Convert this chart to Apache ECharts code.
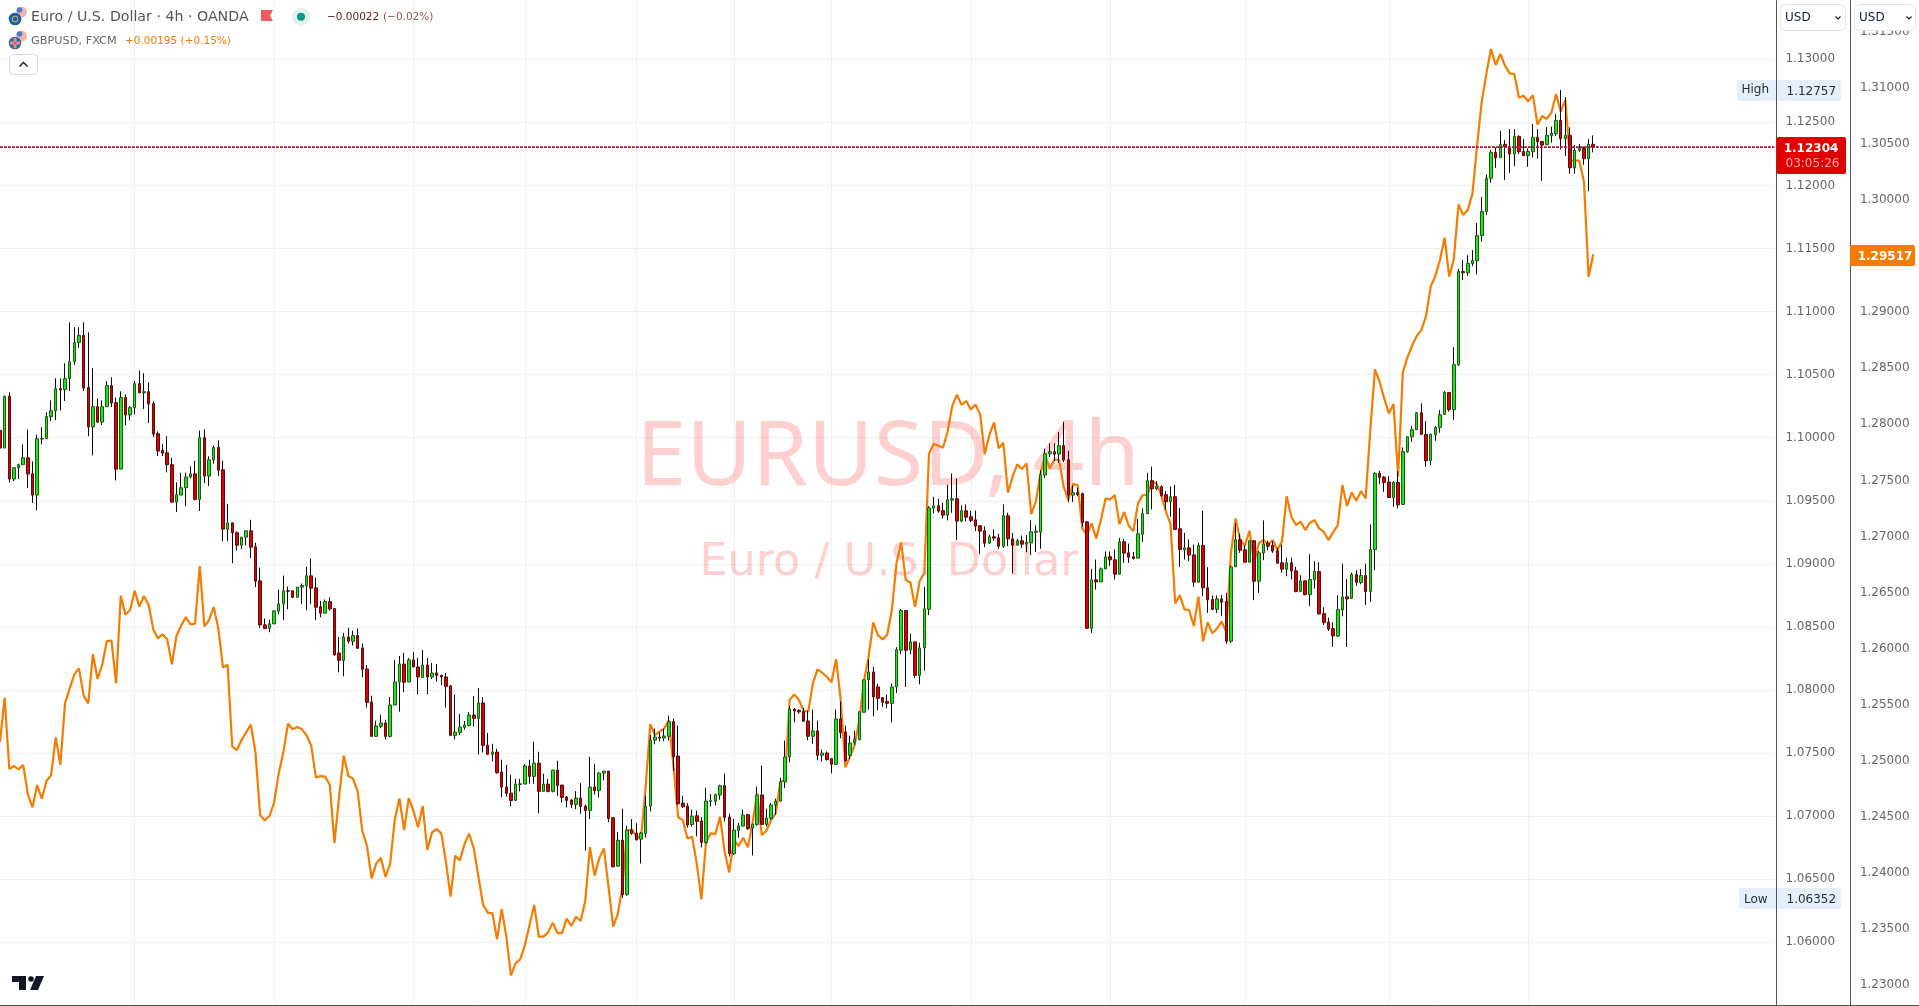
<!DOCTYPE html>
<html><head><meta charset="utf-8">
<style>html,body{margin:0;padding:0;background:#fff;overflow:hidden}#c{width:1919px;height:1006px}</style>
<script src="https://cdn.jsdelivr.net/npm/echarts@6/dist/echarts.min.js"></script>
</head><body><div id="c"></div>
<script>
// Prices are stored in pipettes (price x 100000)
const PIP = 100000;
const opens = [
110058,109918,110328,109672,109762,109786,109841,109714,109545,109989,
109992,110167,110214,110389,110381,110468,110603,110754,110810,110397,
110085,110246,110124,110246,110413,110278,109751,110318,110180,110238,
110429,110355,110365,110270,110032,109900,109881,109786,109489,109545,
109603,109688,109714,109511,110000,109696,109825,109923,109746,109275,
109325,109246,109148,109212,109262,109135,108865,108516,108489,108524,
108624,108683,108788,108786,108735,108815,108825,108905,108810,108659,
108609,108701,108646,108293,108235,108420,108386,108431,108333,108166,
107905,107632,107711,107738,107632,107881,108063,108206,108063,108238,
108182,108100,108198,108103,108135,108116,108103,108032,107640,107664,
107703,107719,107801,107775,107897,107563,107489,107508,107349,107230,
107182,107124,107251,107254,107397,107315,107420,107196,107254,107196,
107365,107246,107151,107127,107092,107143,107079,107045,107230,107203,
107341,107357,106987,106603,106809,106378,106889,106865,106817,106862,
107079,107603,107627,107619,107633,107749,107476,107103,107080,106934,
107003,106961,106791,107117,107117,107167,107241,106992,106701,106886,
106921,107011,106905,106934,107167,106934,106982,107088,107119,107270,
107469,107849,107836,107828,107754,107633,107675,107482,107500,107455,
107410,107770,107667,107482,107580,107606,107823,108080,108143,108024,
107939,107908,107894,108024,108315,108630,108317,108381,108116,108333,
108640,109442,109460,109421,109386,109505,109516,109339,109421,109373,
109349,109302,109262,109164,109214,109206,109140,109381,109198,109148,
109183,109156,109167,109251,109251,109704,109873,109889,109870,109937,
109825,109545,109564,109556,109333,108489,108873,108857,108960,109056,
109032,108918,109175,109087,109056,109045,109235,109397,109659,109595,
109611,109548,109492,109532,109278,109111,109127,109071,108855,109146,
108810,108717,108640,108722,108701,108386,108976,109191,109111,109013,
109183,108862,109087,109164,109148,109103,109008,108958,109008,108944,
108780,108865,108756,108875,108939,108605,108537,108486,108428,108635,
108738,108725,108915,108852,108907,108780,109113,109717,109688,109648,
109526,109645,109471,109889,110008,110063,110198,110026,109820,110023,
110082,110185,110359,110222,110577,111318,111307,111381,111402,111603,
111794,112056,112262,112220,112326,112307,112249,112389,112270,112236,
112267,112381,112349,112323,112394,112410,112516,112371,112397,112140,
112278,112294,112212,112326];
const highs = [
110090,110333,110360,109762,109794,109947,110064,109812,110024,110082,
110201,110296,110471,110471,110590,110915,110876,110876,110915,110836,
110550,110310,110296,110447,110479,110318,110368,110344,110251,110447,
110534,110511,110439,110288,110050,109952,110011,109841,109646,109722,
109722,109773,109818,110056,110066,109852,109937,109979,109818,109476,
109325,109257,109212,109262,109349,109167,108971,108566,108558,108632,
108796,108907,108820,108788,108815,108844,108979,109042,108892,108706,
108717,108735,108646,108420,108452,108492,108471,108487,108368,108198,
107955,107756,107804,107764,107944,108238,108270,108296,108254,108301,
108254,108317,108254,108214,108206,108121,108135,108039,107960,107809,
107754,107825,107952,108016,107944,107659,107574,107534,107447,107407,
107328,107296,107296,107412,107447,107590,107510,107336,107296,107365,
107439,107246,107161,107135,107198,107262,107090,107471,107415,107349,
107357,107357,106987,106873,107058,106923,106976,106944,106875,107161,
107643,107693,107664,107691,107797,107773,107717,107162,107103,107051,
107043,106992,107225,107175,107178,107249,107336,107019,106979,106945,
107051,107019,106937,107233,107400,107058,107103,107138,107304,107598,
107871,107857,107849,107857,107836,107844,107757,107527,107513,107461,
107844,107908,107717,107638,107678,107828,108080,108241,108183,108051,
107942,107963,108051,108339,108643,108630,108447,108381,108373,108817,
109458,109532,109516,109484,109627,109717,109675,109463,109471,109421,
109423,109302,109296,109230,109273,109238,109471,109405,109246,109198,
109225,109228,109344,109304,109741,109913,109955,109955,110045,110127,
109897,109622,109601,109564,109339,108960,109034,108971,109098,109098,
109114,109206,109198,109161,109093,109357,109439,109722,109770,109656,
109622,109577,109614,109627,109444,109246,109193,109153,109167,109421,
108974,108749,108749,108754,108770,108987,109320,109238,109146,109183,
109183,109101,109344,109183,109180,109127,109153,109048,109048,108976,
108910,108865,109076,109021,109013,108656,108574,108537,108751,109002,
108878,108928,108949,108960,109002,109312,109727,109738,109695,109695,
109656,109735,109923,110013,110092,110201,110272,110132,110034,110092,
110219,110370,110359,110717,111339,111408,111447,111487,111704,111908,
112087,112281,112302,112431,112360,112447,112447,112397,112368,112294,
112487,112447,112352,112463,112466,112566,112757,112701,112461,112320,
112328,112307,112368,112397];
const lows = [
109886,109918,109646,109656,109672,109786,109601,109482,109423,109947,
109992,110132,110138,110217,110291,110370,110577,110714,110370,110011,
109860,110116,110101,110243,110243,109661,109751,110098,110138,110185,
110355,110228,110116,110005,109855,109855,109725,109489,109410,109545,
109458,109677,109503,109418,109638,109616,109794,109696,109180,109180,
109005,109106,109116,109148,109045,108815,108492,108482,108458,108524,
108601,108553,108640,108728,108735,108680,108632,108680,108553,108577,
108609,108630,108273,108140,108108,108368,108352,108330,108100,107860,
107632,107632,107696,107608,107624,107881,107828,107981,108063,108182,
107965,108095,107965,108087,108066,108037,107860,107640,107608,107643,
107685,107711,107711,107489,107505,107489,107434,107336,107148,107156,
107077,107124,107196,107254,107256,107256,107021,107196,107188,107188,
107159,107108,107069,107063,107055,107018,106727,106976,107172,107148,
107283,106952,106592,106603,106352,106368,106852,106807,106624,106830,
107037,107569,107592,107593,107598,107360,107090,107064,106910,106918,
106839,106752,106781,107077,107085,107130,106958,106680,106693,106828,
106918,106892,106688,106924,106934,106918,106971,107011,107117,107222,
107426,107744,107812,107752,107601,107574,107442,107434,107442,107339,
107410,107617,107431,107453,107564,107601,107823,107844,107791,107839,
107865,107855,107744,107976,108283,108024,108283,108095,108045,108153,
108593,109400,109405,109360,109344,109405,109188,109331,109336,109331,
109259,109077,109132,109159,109183,109119,109127,109140,108923,109148,
109127,109093,109069,109093,109119,109680,109847,109815,109802,109807,
109489,109489,109537,109294,108489,108452,108796,108855,108958,108982,
108876,108918,109008,109008,109034,109045,109172,109397,109431,109582,
109532,109431,109373,109267,108974,109034,109021,108817,108849,108743,
108611,108632,108611,108585,108365,108373,108976,109087,109013,109013,
108712,108770,109029,109108,109087,109005,108929,108902,108876,108775,
108777,108751,108666,108804,108598,108516,108468,108341,108420,108584,
108341,108725,108825,108838,108674,108698,108952,109632,109571,109526,
109452,109439,109471,109881,109968,110063,110023,109770,109783,109976,
110039,110185,110206,110143,110571,111249,111281,111360,111296,111556,
111765,112021,112140,112220,112043,112101,112154,112249,112236,112148,
112222,112212,112037,112323,112339,112392,112286,112233,112093,112093,
112267,112164,111955,112262];
const closes = [
109918,110328,109672,109762,109786,109841,109712,109545,109992,109995,
110167,110214,110389,110378,110468,110603,110754,110810,110394,110085,
110246,110124,110246,110413,110275,109751,110318,110180,110238,110429,
110355,110365,110267,110029,109894,109878,109786,109489,109548,109603,
109688,109714,109511,110000,109696,109825,109923,109743,109275,109325,
109246,109148,109212,109262,109132,108863,108516,108487,108524,108627,
108683,108786,108783,108735,108815,108828,108905,108807,108656,108609,
108701,108643,108278,108235,108420,108386,108431,108330,108164,107902,
107632,107714,107738,107632,107881,108063,108206,108061,108238,108182,
108103,108198,108103,108135,108116,108103,108029,107640,107666,107706,
107722,107801,107775,107897,107561,107489,107508,107344,107230,107180,
107124,107254,107256,107397,107315,107420,107196,107254,107196,107365,
107243,107148,107124,107092,107143,107077,107045,107230,107203,107341,
107357,106981,106598,106809,106378,106889,106862,106812,106865,107079,
107603,107627,107619,107635,107749,107471,107098,107074,106931,107000,
106958,106791,107119,107122,107170,107241,106990,106704,106889,106921,
107008,106900,106937,107167,106934,106984,107088,107119,107270,107469,
107849,107834,107826,107752,107633,107675,107482,107500,107447,107410,
107770,107662,107439,107580,107611,107828,108080,108143,107945,107934,
107902,107894,108024,108320,108630,108315,108381,108116,108333,108643,
109444,109460,109418,109386,109508,109516,109339,109421,109370,109344,
109299,109259,109164,109214,109204,109140,109381,109198,109148,109183,
109156,109169,109254,109259,109706,109873,109889,109870,109937,109823,
109545,109564,109550,109328,108489,108873,108857,108960,109056,109032,
108918,109175,109085,109053,109042,109238,109397,109659,109595,109614,
109542,109492,109532,109273,109114,109127,109069,108855,109146,108810,
108714,108640,108722,108696,108386,108976,109191,109108,109013,109183,
108862,109087,109159,109140,109101,109005,108958,109008,108944,108780,
108865,108756,108875,108939,108603,108534,108484,108428,108637,108738,
108722,108915,108852,108907,108780,109113,109717,109685,109645,109526,
109645,109468,109889,110008,110063,110198,110026,109817,110026,110082,
110182,110359,110222,110579,111318,111307,111381,111405,111603,111794,
112056,112262,112220,112326,112307,112249,112389,112267,112236,112270,
112381,112347,112320,112397,112413,112516,112371,112397,112140,112278,
112294,112212,112326,112304];
const gbpusd = [
125170,125562,124926,124953,124923,124962,124700,124584,124783,124661,
124819,124872,125208,124962,125512,125645,125770,125824,125580,125512,
125952,125729,125854,126068,126071,125690,126472,126302,126344,126516,
126374,126469,126389,126172,126091,126127,126082,125859,126115,126204,
126282,126216,126222,126739,126198,126252,126371,126181,125830,125856,
125125,125095,125185,125253,125321,125075,124516,124468,124507,124623,
124887,125075,125330,125280,125301,125280,125226,125134,124852,124863,
124858,124783,124266,124679,125045,124864,124840,124724,124373,124242,
123951,124082,124135,123963,124082,124480,124664,124382,124667,124554,
124406,124596,124204,124361,124391,124352,124100,123787,124153,124111,
124257,124349,124218,123966,123713,123645,123639,123407,123677,123431,
123086,123193,123228,123356,123535,123713,123431,123431,123469,123556,
123463,123463,123591,123526,123609,123570,123749,124230,123975,124129,
124218,123877,123520,123633,123877,124376,124388,124328,124305,124768,
125327,125229,125259,125289,125357,124947,124495,124471,124307,124322,
124084,123763,124278,124352,124346,124501,124189,124004,124293,124239,
124313,124227,124441,124709,124337,124376,124471,124530,124813,124828,
125541,125592,125541,125446,125437,125690,125815,125785,125749,125699,
125907,125541,124941,125036,125140,125363,125714,125927,126234,126121,
126082,126121,126344,126760,126947,126611,126590,126373,126602,126677,
127741,127824,127809,127791,127934,128163,128264,128175,128208,128133,
128178,128089,127735,127904,128017,127786,127836,127390,127533,127643,
127601,127652,127200,127310,127563,127726,127607,127687,127681,127444,
127325,127467,127461,127072,127013,127117,126983,127146,127337,127331,
127369,127111,127218,127096,127048,127295,127369,127369,127488,127473,
127369,127221,127111,126403,126477,126350,126344,126201,126463,126064,
126234,126136,126180,126240,126150,126849,127161,126968,126917,127051,
126766,126938,126968,126929,126968,126879,126959,127360,127176,127102,
127132,127057,127123,127146,127072,127042,126968,127036,127102,127459,
127271,127393,127319,127405,127340,127949,128490,128380,128232,128098,
128181,127533,128461,128597,128701,128788,128841,128966,129228,129323,
129466,129665,129317,129480,129962,129867,129912,130060,130491,130878,
131131,131348,131205,131303,131199,131131,131125,130913,130931,130881,
130937,130673,130750,130726,130780,130946,130789,130893,130358,130352,
130352,130164,129317,129517];
// Bars on the time scale (candles plus empty room to the right) and period-start bars
const totalBars = 383;
const periodStarts = [29,59,89,113,137,158,179,209,239,268,299,329];
const lastEur = 1.12304, lastGbp = 1.29517, highEur = 1.12757, lowEur = 1.06352;
const eurTicks = {min:1.055, max:1.135, step:0.005};
const gbpTicks = {min:1.225, max:1.32, step:0.005};

const bars = Array.from({length:totalBars},(_,i)=>String(i));
const wickData = opens.map((o,i)=>[o/PIP,closes[i]/PIP,lows[i]/PIP,highs[i]/PIP]);
const bodyData = opens.map((o,i)=>[o/PIP,closes[i]/PIP,Math.min(o,closes[i])/PIP,Math.max(o,closes[i])/PIP]);
const gbpData = gbpusd.map(v=>v/PIP);
const priceLine = bars.map(()=>lastEur);
const starts = new Set(periodStarts);

const FONT='"DejaVu Sans",sans-serif';
function T(text,x,y,fill,size,opt){opt=opt||{};return {type:'text',z:opt.z||200,silent:true,style:{text,x,y,fill,font:(opt.weight||'normal')+' '+size+'px '+(opt.family||FONT),textAlign:opt.align||'left',textVerticalAlign:'middle'}};}
function R(x,y,w,h,fill,r,stroke){return {type:'rect',z:150,silent:true,shape:{x,y,width:w,height:h,r:r||0},style:{fill,stroke:stroke||null,lineWidth:stroke?1:0}};}
function C(cx,cy,r,fill,z){return {type:'circle',z:z||150,silent:true,shape:{cx,cy,r},style:{fill}};}
function P(points,fill,z){return {type:'polygon',z:z||150,silent:true,shape:{points},style:{fill}};}
function L(points,stroke,w){return {type:'polyline',z:200,silent:true,shape:{points},style:{stroke,lineWidth:w,fill:null}};}

const elements=[
 // watermark
 {type:'text',z:1,silent:true,style:{text:'EURUSD, 4h',x:888,y:459,fill:'rgba(250,60,60,0.24)',font:'normal 90px "Noto Sans",sans-serif',textAlign:'center',textVerticalAlign:'middle'}},
 {type:'text',z:1,silent:true,style:{text:'Euro / U.S. Dollar',x:889,y:563,fill:'rgba(250,60,60,0.24)',font:'normal 44.5px "DejaVu Sans",sans-serif',textAlign:'center',textVerticalAlign:'middle'}},
 // legend icons
 C(21.5,12,5.5,'#f5b5b5'),C(19.5,10,2.8,'#4f78c8'),C(15,19,6.3,'#1b5cab',151),C(15,19,3.2,'#e5c84a',152),C(15,19,2.4,'#1b5cab',153),
 C(21.5,36,5.5,'#f5b5b5'),C(19.5,34,2.8,'#4f78c8'),C(15,43,6.3,'#4a5f9d',151),
 {type:'line',z:152,silent:true,shape:{x1:10,y1:43,x2:20,y2:43},style:{stroke:'#f7f0f0',lineWidth:2.4}},
 {type:'line',z:152,silent:true,shape:{x1:15,y1:38,x2:15,y2:48},style:{stroke:'#f7f0f0',lineWidth:2.4}},
 {type:'line',z:153,silent:true,shape:{x1:10,y1:43,x2:20,y2:43},style:{stroke:'#d9434a',lineWidth:1.2}},
 {type:'line',z:153,silent:true,shape:{x1:15,y1:38,x2:15,y2:48},style:{stroke:'#d9434a',lineWidth:1.2}},
 T('Euro / U.S. Dollar · 4h · OANDA',31,17,'#555555',14.2),
 T('GBPUSD, FXCM',31,41.5,'#666666',11.3),
 T('+0.00195 (+0.15%)',125,41.5,'#f57c00',10.5),
 P([[261,10],[273,10],[270,15.5],[273,21],[261,21]],'#f55a5a'),
 C(301,16.7,9,'rgba(8,153,129,0.13)'),C(301,16.7,4,'#089981',151),
 T('−0.00022',327,17,'#5c1c1c',10.5),
 T('(−0.02%)',383,17,'#8a5a55',10.5),
 R(9.5,54.5,28,20,'#ffffff',4,'#d6d8e4'),
 L([[19.5,66.5],[23.5,62.5],[27.5,66.5]],'#131722',1.4),
 // TradingView mark
 P([[12,976],[26,976],[26,990],[19,990],[19,982],[12,982]],'#131722'),C(31,979,2.8,'#131722'),
 P([[36,976],[44,976],[38,990],[30,990]],'#131722'),
 // frame
 {type:'line',z:120,silent:true,shape:{x1:0,y1:1005.5,x2:1919,y2:1005.5},style:{stroke:'#555555',lineWidth:1}},
 // currency buttons
 R(1780.5,4.5,65,26,'#ffffff',5,'#e2e4ec'),T('USD',1785,18,'#131f3a',12),L([[1835.5,16.5],[1838,19],[1840.5,16.5]],'#131722',1.1),
 R(1854.5,4.5,61,26,'#ffffff',5,'#e2e4ec'),T('USD',1859,18,'#131f3a',12),L([[1906.5,16.5],[1909,19],[1911.5,16.5]],'#131722',1.1),
 // High / Low tags
 R(1737,80,39,21,'#e3effd',2),R(1777,80,64,21,'#e3effd',2),T('High',1741.5,90,'#2a2e39',12),T(highEur.toFixed(5),1786.5,91.5,'#2a2e39',12),
 R(1739,888,37,21,'#e3effd',2),R(1777,888,64,21,'#e3effd',2),T('Low',1744,899.5,'#2a2e39',12),T(lowEur.toFixed(5),1786.5,899.5,'#2a2e39',12),
 // last price tags
 R(1776.5,137,69.5,37,'#e00000',2),T(lastEur.toFixed(5),1811,148.5,'#ffffff',12,{align:'center',weight:'bold'}),T('03:05:26',1812.5,164,'#ffb0b0',12,{align:'center'}),
 R(1850,245,65,21,'#f57c00',2),T(lastGbp.toFixed(5),1885,256.5,'#ffffff',12,{align:'center',weight:'bold'})
];

const chart=echarts.init(document.getElementById('c'),null,{renderer:'canvas',width:1919,height:1006});
const xAxisBase={type:'category',data:bars,boundaryGap:false,axisLine:{show:false},axisTick:{show:false},axisLabel:{show:false}};
const labelFmt=(lo,hi)=>v=>(v<=lo+1e-6||v>=hi-1e-6)?'':v.toFixed(5);
chart.setOption({
 animation:false,backgroundColor:'#ffffff',
 tooltip:{show:false},
 grid:[
  {left:0,top:-3.77,width:1774.39,height:1009.07,outerBoundsMode:'none'},
  {left:0,top:-24.12,width:1774.39,height:1065.14,outerBoundsMode:'none'}
 ],
 xAxis:[
  Object.assign({},xAxisBase,{gridIndex:0,splitLine:{show:true,interval:(i)=>starts.has(i),lineStyle:{color:'#efefef',width:1}}}),
  Object.assign({},xAxisBase,{gridIndex:1,splitLine:{show:false}})
 ],
 yAxis:[
  {type:'value',gridIndex:0,position:'right',offset:2,min:eurTicks.min,max:eurTicks.max,interval:eurTicks.step,
   axisLine:{show:true,lineStyle:{color:'#555555',width:1}},axisTick:{show:false},
   axisLabel:{margin:9,padding:[2,0,0,0],color:'#666666',fontFamily:'"DejaVu Sans"',fontSize:12,formatter:labelFmt(eurTicks.min,eurTicks.max)},
   splitLine:{show:true,lineStyle:{color:'#efefef',width:1}}},
  {type:'value',gridIndex:1,position:'right',offset:76,min:gbpTicks.min,max:gbpTicks.max,interval:gbpTicks.step,
   axisLine:{show:true,lineStyle:{color:'#555555',width:1}},axisTick:{show:false},
   axisLabel:{margin:9.5,padding:[2,0,0,0],color:'#666666',fontFamily:'"DejaVu Sans"',fontSize:12,formatter:labelFmt(gbpTicks.min,gbpTicks.max)},
   splitLine:{show:false}}
 ],
 graphic:{elements},
 series:[
  {name:'GBPUSD',type:'line',xAxisIndex:1,yAxisIndex:1,data:gbpData,showSymbol:false,symbol:'none',z:3,
   lineStyle:{color:'#f57c00',width:2.2},smooth:false},
  {name:'EURUSD wicks',type:'candlestick',xAxisIndex:0,yAxisIndex:0,data:wickData,barWidth:1,z:4,
   itemStyle:{color:'#0b0b0b',color0:'#0b0b0b',borderColor:'#0b0b0b',borderColor0:'#0b0b0b',borderColorDoji:'#0b0b0b',borderWidth:1}},
  {name:'EURUSD bodies',type:'candlestick',xAxisIndex:0,yAxisIndex:0,data:bodyData,barWidth:3,z:5,
   itemStyle:{color:'#19e619',color0:'#dc0000',borderColor:'#1d5a12',borderColor0:'#5a0a0a',borderColorDoji:'#1d5a12',borderWidth:1}},
  {name:'price line blue',type:'line',xAxisIndex:0,yAxisIndex:0,data:priceLine,showSymbol:false,symbol:'none',z:6,
   lineStyle:{color:'#2962ff',width:1.6,type:[1,3],dashOffset:2}},
  {name:'price line red',type:'line',xAxisIndex:0,yAxisIndex:0,data:priceLine,showSymbol:false,symbol:'none',z:7,
   lineStyle:{color:'#e00000',width:1.6,type:[2,2]}}
 ]
});
</script></body></html>
